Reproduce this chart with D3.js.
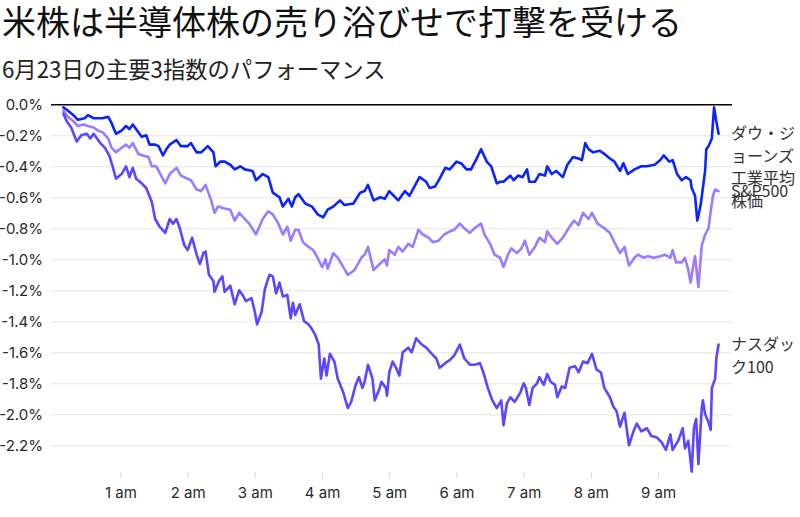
<!DOCTYPE html>
<html lang="ja">
<head>
<meta charset="utf-8">
<script src="https://cdn.jsdelivr.net/npm/d3@7"></script>
<style>
  body { margin: 0; background: #fff; }
  .tick text { font-family: Inter, "Noto Sans", sans-serif; }
</style>
</head>
<body>
<div id="chart"></div>
<script>
// 文字列
const titleText = "米株は半導体株の売り浴びせで打撃を受ける"
const subtitleText = "6月23日の主要3指数のパフォーマンス"

// 目盛り
const yTicks = [0, -0.2, -0.4, -0.6, -0.8, -1.0, -1.2, -1.4, -1.6, -1.8, -2.0, -2.2]
const xTicks = [60, 120, 180, 240, 300, 360, 420, 480, 540]   // 分 (0:00 から)
const xTickLabels = ["1 am", "2 am", "3 am", "4 am", "5 am", "6 am", "7 am", "8 am", "9 am"]

// 系列名 (折り返し済み)
const dowLabel = ["ダウ・ジ", "ョーンズ", "工業平均", "株価"]
const spLabel = ["S&P500"]
const ndxLabel = ["ナスダッ", "ク100"]

// [分, 騰落率%]
const dowData = [
  [9,-0.02],[13,-0.04],[18,-0.07],[22,-0.10],[28,-0.09],[31,-0.07],[36,-0.09],[40,-0.09],[44,-0.09],[49,-0.08],
  [52,-0.12],[56,-0.19],[61,-0.17],[65,-0.14],[68,-0.16],[71,-0.13],[76,-0.18],[79,-0.21],[83,-0.20],[86,-0.26],
  [91,-0.26],[94,-0.27],[98,-0.33],[101,-0.29],[104,-0.26],[110,-0.23],[114,-0.27],[120,-0.27],[123,-0.25],[128,-0.31],
  [132,-0.31],[138,-0.27],[143,-0.31],[145,-0.40],[149,-0.37],[153,-0.37],[158,-0.39],[162,-0.42],[167,-0.40],[171,-0.42],
  [178,-0.43],[181,-0.49],[187,-0.45],[192,-0.47],[196,-0.57],[202,-0.60],[205,-0.66],[210,-0.61],[213,-0.66],[216,-0.60],
  [219,-0.58],[225,-0.64],[231,-0.66],[236,-0.71],[241,-0.73],[245,-0.68],[250,-0.66],[256,-0.62],[260,-0.65],[268,-0.64],
  [274,-0.57],[278,-0.56],[281,-0.52],[286,-0.62],[292,-0.60],[296,-0.61],[300,-0.56],[308,-0.62],[314,-0.56],[318,-0.59],
  [324,-0.51],[327,-0.47],[333,-0.50],[336,-0.54],[341,-0.53],[345,-0.48],[350,-0.41],[354,-0.42],[360,-0.37],[364,-0.38],
  [369,-0.42],[373,-0.42],[378,-0.35],[382,-0.29],[387,-0.37],[391,-0.40],[396,-0.51],[399,-0.50],[402,-0.50],[408,-0.46],
  [411,-0.49],[415,-0.46],[419,-0.47],[423,-0.42],[425,-0.50],[430,-0.50],[434,-0.45],[439,-0.46],[441,-0.40],[445,-0.45],
  [449,-0.43],[455,-0.47],[459,-0.39],[464,-0.34],[469,-0.35],[472,-0.36],[475,-0.25],[478,-0.29],[482,-0.31],[488,-0.30],
  [492,-0.32],[497,-0.35],[501,-0.37],[506,-0.43],[509,-0.38],[513,-0.45],[519,-0.42],[525,-0.40],[530,-0.40],[537,-0.39],
  [542,-0.36],[545,-0.33],[550,-0.37],[553,-0.36],[557,-0.45],[561,-0.49],[565,-0.47],[569,-0.49],[570,-0.54],[573,-0.59],
  [575,-0.75],[578,-0.65],[582,-0.43],[583,-0.29],[585,-0.27],[588,-0.22],[590,-0.02],[592,-0.11],[594,-0.19]
]

const spData = [
  [9,-0.04],[13,-0.08],[18,-0.11],[22,-0.14],[27,-0.13],[31,-0.14],[36,-0.15],[40,-0.17],[44,-0.18],[49,-0.22],
  [52,-0.28],[56,-0.31],[61,-0.28],[65,-0.26],[68,-0.28],[71,-0.25],[76,-0.32],[80,-0.33],[85,-0.34],[88,-0.40],
  [92,-0.40],[97,-0.47],[100,-0.51],[104,-0.45],[110,-0.41],[114,-0.46],[120,-0.48],[123,-0.49],[128,-0.55],[132,-0.56],
  [136,-0.52],[141,-0.62],[144,-0.70],[147,-0.66],[152,-0.67],[158,-0.68],[162,-0.75],[166,-0.70],[171,-0.74],[175,-0.77],
  [181,-0.84],[187,-0.74],[192,-0.69],[196,-0.71],[201,-0.77],[205,-0.84],[209,-0.79],[212,-0.88],[216,-0.81],[219,-0.81],
  [223,-0.89],[228,-0.92],[232,-0.94],[236,-0.99],[240,-1.05],[243,-1.00],[245,-1.06],[250,-0.96],[254,-0.99],[259,-1.05],
  [263,-1.10],[269,-1.07],[275,-0.99],[278,-0.97],[281,-0.92],[286,-1.07],[290,-1.04],[296,-1.00],[298,-1.04],[300,-0.94],
  [305,-0.97],[308,-0.92],[312,-0.95],[317,-0.90],[321,-0.92],[326,-0.81],[330,-0.84],[335,-0.86],[339,-0.89],[344,-0.88],
  [349,-0.84],[354,-0.82],[358,-0.81],[363,-0.77],[367,-0.80],[372,-0.83],[376,-0.80],[382,-0.77],[385,-0.84],[390,-0.90],
  [394,-0.97],[399,-0.99],[402,-1.05],[406,-0.97],[409,-0.93],[414,-0.96],[418,-0.93],[421,-0.88],[425,-0.97],[430,-0.92],
  [434,-0.86],[439,-0.89],[441,-0.82],[445,-0.86],[450,-0.90],[455,-0.86],[460,-0.80],[465,-0.75],[469,-0.78],[473,-0.70],
  [478,-0.74],[481,-0.70],[486,-0.77],[492,-0.80],[497,-0.83],[501,-0.89],[506,-0.96],[510,-0.92],[514,-1.04],[519,-0.99],
  [522,-0.97],[527,-0.99],[531,-0.98],[536,-0.99],[542,-0.98],[546,-0.97],[551,-0.99],[553,-0.94],[556,-1.02],[561,-1.02],
  [564,-0.99],[567,-1.07],[569,-1.15],[571,-1.06],[573,-0.98],[576,-1.18],[579,-0.91],[582,-0.84],[585,-0.80],[587,-0.69],
  [589,-0.59],[591,-0.55],[594,-0.56]
]

const ndxData = [
  [9,-0.06],[12,-0.11],[16,-0.15],[21,-0.24],[25,-0.20],[30,-0.19],[33,-0.22],[36,-0.19],[42,-0.25],[46,-0.28],
  [50,-0.33],[53,-0.40],[56,-0.48],[61,-0.45],[65,-0.40],[68,-0.47],[71,-0.41],[74,-0.48],[79,-0.51],[83,-0.54],
  [88,-0.63],[91,-0.74],[95,-0.79],[100,-0.83],[104,-0.74],[107,-0.77],[110,-0.74],[113,-0.80],[117,-0.91],[120,-0.94],
  [124,-0.86],[128,-0.97],[131,-1.03],[134,-0.96],[136,-0.95],[139,-1.10],[143,-1.14],[144,-1.21],[148,-1.14],[151,-1.11],
  [153,-1.21],[158,-1.17],[162,-1.29],[166,-1.20],[169,-1.23],[172,-1.27],[177,-1.25],[180,-1.34],[182,-1.42],[186,-1.34],
  [189,-1.19],[193,-1.10],[196,-1.11],[199,-1.22],[202,-1.15],[205,-1.24],[209,-1.23],[212,-1.38],[214,-1.28],[216,-1.36],
  [220,-1.29],[224,-1.40],[228,-1.42],[231,-1.45],[234,-1.49],[237,-1.55],[239,-1.77],[242,-1.64],[244,-1.75],[247,-1.61],
  [251,-1.66],[254,-1.77],[259,-1.86],[263,-1.96],[266,-1.92],[270,-1.81],[273,-1.76],[276,-1.83],[278,-1.79],[281,-1.68],
  [285,-1.77],[287,-1.91],[291,-1.84],[293,-1.79],[297,-1.83],[298,-1.88],[300,-1.73],[303,-1.66],[306,-1.70],[309,-1.75],
  [312,-1.60],[317,-1.57],[320,-1.60],[324,-1.51],[329,-1.55],[333,-1.57],[338,-1.61],[342,-1.64],[345,-1.70],[350,-1.67],
  [354,-1.65],[358,-1.62],[363,-1.55],[367,-1.64],[372,-1.68],[376,-1.68],[381,-1.67],[384,-1.73],[388,-1.83],[392,-1.91],
  [396,-1.96],[400,-1.91],[402,-2.07],[405,-1.93],[408,-1.89],[412,-1.92],[417,-1.86],[420,-1.80],[422,-1.83],[425,-1.94],
  [428,-1.83],[432,-1.80],[434,-1.76],[438,-1.81],[441,-1.74],[444,-1.79],[448,-1.81],[450,-1.89],[454,-1.82],[457,-1.83],
  [461,-1.70],[466,-1.69],[469,-1.73],[473,-1.66],[477,-1.67],[481,-1.61],[485,-1.71],[489,-1.73],[492,-1.83],[497,-1.89],
  [500,-1.95],[503,-1.98],[506,-2.08],[510,-1.99],[514,-2.20],[518,-2.11],[521,-2.06],[525,-2.11],[530,-2.09],[534,-2.14],
  [539,-2.15],[543,-2.18],[547,-2.23],[551,-2.13],[553,-2.23],[558,-2.17],[562,-2.09],[564,-2.22],[567,-2.17],[570,-2.37],
  [572,-2.09],[574,-2.03],[576,-2.32],[579,-1.96],[580,-1.91],[582,-2.00],[585,-2.05],[587,-2.10],[588,-1.83],[591,-1.77],
  [592,-1.64],[594,-1.55]
]

const series = [
  { name: "dow", data: dowData, label: dowLabel, color: "#0a24ff" },
  { name: "sp", data: spData, label: spLabel, color: "#9c7bff" },
  { name: "ndx", data: ndxData, label: ndxLabel, color: "#5b47ff" },
]

// Dimensions
const dims = {
  width: 800,
  height: 517,
  left: 51,
  right: 732,
  top: 104.3,
  bottom: 445.3,
}

const svg = d3.select("#chart")
  .append("svg")
  .attr("width", dims.width)
  .attr("height", dims.height)

// Title
svg.append("text")
  .attr("x", 2)
  .attr("y", 35)
  .attr("font-family", '"Noto Sans CJK JP", sans-serif')
  .attr("font-size", 34)
  .attr("fill", "#111")
  .text(titleText)

svg.append("text")
  .attr("x", 2)
  .attr("y", 78)
  .attr("font-family", '"Noto Sans CJK JP", sans-serif')
  .attr("font-size", 22.3)
  .attr("fill", "#222")
  .text(subtitleText)

// Scales
const xScale = d3.scaleLinear()
  .domain([-2, 606])
  .range([dims.left, dims.right])

const yScale = d3.scaleLinear()
  .domain([0, -2.2])
  .range([dims.top, dims.bottom])

const fmtPct = d => (d < 0 ? "-" : "") + Math.abs(d).toFixed(1) + "%"

// y axis + grid
const yAxis = d3.axisLeft(yScale)
  .tickValues(yTicks)
  .tickSize(-(dims.right - dims.left))
  .tickPadding(8)
  .tickFormat(fmtPct)

const yG = svg.append("g")
  .attr("transform", `translate(${dims.left},0)`)
  .call(yAxis)

yG.select(".domain").remove()
yG.selectAll(".tick line")
  .attr("stroke", d => d === 0 ? "#000" : "#e4e4e4")
  .attr("stroke-width", d => d === 0 ? 1.6 : 1)
yG.selectAll(".tick text")
  .attr("font-size", 15)
  .attr("fill", "#2a2a2a")

// x axis
const xAxis = d3.axisBottom(xScale)
  .tickValues(xTicks)
  .tickSize(6)
  .tickPadding(9)
  .tickFormat((d, i) => xTickLabels[i])

const xG = svg.append("g")
  .attr("transform", `translate(0,472)`)
  .call(xAxis)

xG.select(".domain").remove()
xG.selectAll(".tick line").attr("stroke", "#d6d6d6")
xG.selectAll(".tick text")
  .attr("font-size", 15)
  .attr("fill", "#2a2a2a")

// lines
const lineGen = d3.line()
  .x(d => xScale(d[0]))
  .y(d => yScale(d[1]))

svg.append("g")
  .selectAll("path")
  .data(series)
  .join("path")
  .attr("d", d => lineGen(d.data))
  .attr("fill", "none")
  .attr("stroke", d => d.color)
  .attr("stroke-width", 2.6)
  .attr("stroke-linejoin", "round")
  .attr("stroke-linecap", "round")

// end labels
const lineH = 22.5
series.forEach(s => {
  const last = s.data[s.data.length - 1]
  const t = svg.append("text")
    .attr("x", 731)
    .attr("y", yScale(last[1]))
    .attr("font-family", '"Noto Sans CJK JP", sans-serif')
    .attr("font-size", 16)
    .attr("fill", "#333")
  t.selectAll("tspan")
    .data(s.label)
    .join("tspan")
    .attr("x", 731)
    .attr("dy", (d, i) => i === 0 ? "0.35em" : lineH)
    .text(d => d)
})
</script>
</body>
</html>
